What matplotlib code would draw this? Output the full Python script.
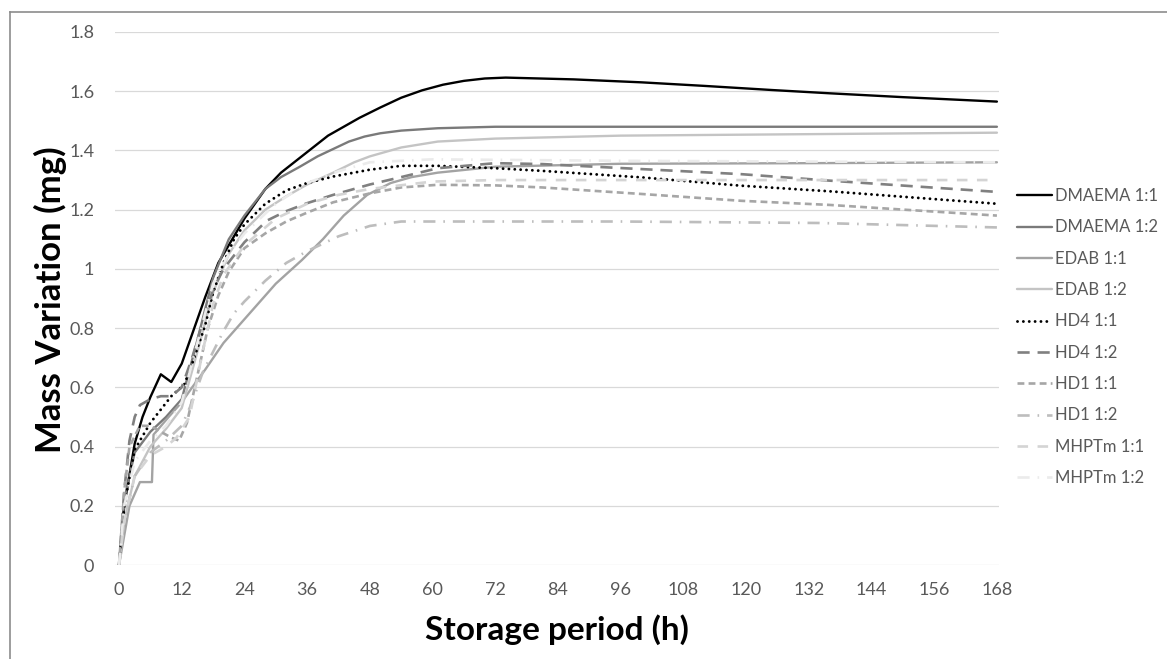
import matplotlib
matplotlib.use("Agg")
import matplotlib.pyplot as plt
from matplotlib.lines import Line2D

plt.rcParams['font.family'] = ['Lato', 'DejaVu Sans']

# ---- data: mass variation (mg) vs storage time (h) ----
dmaema_11_h = [0, 1, 3, 4.5, 6, 8, 10, 12, 14, 16.5, 19, 22, 24, 28, 31, 34.6, 40, 46, 50, 54, 58, 62, 66, 70, 74, 87, 100, 112, 125, 136, 150, 168]
dmaema_11_mg = [0, 0.2, 0.41, 0.5, 0.567, 0.644, 0.618, 0.68, 0.78, 0.905, 1.02, 1.11, 1.17, 1.27, 1.325, 1.375, 1.45, 1.51, 1.545, 1.578, 1.603, 1.622, 1.635, 1.643, 1.646, 1.64, 1.63, 1.618, 1.604, 1.593, 1.58, 1.565]

dmaema_12_h = [0, 1, 3, 6, 9, 12, 15, 18, 21, 24, 28, 31, 34.6, 38, 41, 44, 47, 50, 54, 61, 72, 96, 132, 168]
dmaema_12_mg = [0, 0.22, 0.38, 0.45, 0.5, 0.56, 0.76, 0.97, 1.1, 1.18, 1.27, 1.31, 1.345, 1.38, 1.405, 1.43, 1.447, 1.458, 1.467, 1.475, 1.48, 1.48, 1.48, 1.48]

edab_11_h = [0, 2, 4, 6.3, 6.6, 9.5, 12, 14, 16.5, 20, 24, 30, 35, 39, 43, 47.5, 52, 56, 61, 72, 96, 132, 168]
edab_11_mg = [0, 0.2, 0.28, 0.28, 0.44, 0.5, 0.55, 0.6, 0.66, 0.75, 0.83, 0.95, 1.03, 1.1, 1.18, 1.25, 1.29, 1.31, 1.325, 1.345, 1.355, 1.357, 1.36]

edab_12_h = [0, 1, 3, 6, 9, 12, 15, 18, 21, 24, 28, 32, 36, 41, 45, 48, 54, 61, 72, 96, 132, 168]
edab_12_mg = [0, 0.15, 0.3, 0.4, 0.46, 0.53, 0.72, 0.92, 1.05, 1.13, 1.2, 1.245, 1.285, 1.325, 1.36, 1.38, 1.41, 1.43, 1.44, 1.45, 1.455, 1.46]

hd4_11_h = [0, 1, 3, 6, 10, 12.5, 14, 16.5, 18, 20, 22, 24, 28, 32, 36, 41, 48, 54, 61, 72, 81, 100, 119, 136, 168]
hd4_11_mg = [0, 0.2, 0.39, 0.48, 0.57, 0.61, 0.68, 0.81, 0.92, 1.02, 1.1, 1.15, 1.22, 1.265, 1.29, 1.312, 1.335, 1.348, 1.348, 1.34, 1.331, 1.309, 1.281, 1.262, 1.22]

hd4_12_h = [0, 1, 2, 3, 4, 6, 8, 10, 12, 14, 16, 18, 20, 24, 28.3, 32, 36, 41, 48, 54, 61, 72, 81, 100, 119, 136, 168]
hd4_12_mg = [0, 0.25, 0.42, 0.5, 0.54, 0.56, 0.57, 0.57, 0.6, 0.7, 0.82, 0.93, 1.0, 1.09, 1.163, 1.195, 1.222, 1.25, 1.285, 1.31, 1.34, 1.357, 1.354, 1.337, 1.32, 1.298, 1.26]

hd1_11_h = [0, 1, 2, 4, 6, 8, 10, 11.5, 13, 15, 17, 19, 21, 24, 28, 32, 36, 41, 48, 54, 61, 72, 81, 100, 119, 136, 168]
hd1_11_mg = [0, 0.25, 0.4, 0.47, 0.47, 0.45, 0.43, 0.42, 0.48, 0.64, 0.8, 0.91, 0.99, 1.07, 1.12, 1.16, 1.19, 1.225, 1.255, 1.275, 1.284, 1.282, 1.275, 1.253, 1.23, 1.216, 1.18]

hd1_12_h = [0, 1, 3, 6, 9, 12, 14, 16, 18, 20, 22, 24, 28, 32, 36, 42, 48, 54, 60, 96, 134, 168]
hd1_12_mg = [0, 0.15, 0.3, 0.38, 0.42, 0.47, 0.55, 0.65, 0.72, 0.79, 0.85, 0.89, 0.96, 1.02, 1.06, 1.11, 1.145, 1.16, 1.16, 1.16, 1.155, 1.14]

mhptm_11_h = [0, 1, 3, 6, 9, 11, 13.5, 16, 18, 20, 24, 30, 36, 42, 48, 60, 72, 168]
mhptm_11_mg = [0, 0.15, 0.3, 0.37, 0.4, 0.43, 0.5, 0.72, 0.88, 0.98, 1.08, 1.17, 1.22, 1.25, 1.27, 1.295, 1.3, 1.3]

mhptm_12_h = [0, 1, 3, 6, 9, 12, 15, 18, 21, 24, 30, 36, 42, 48, 60, 96, 168]
mhptm_12_mg = [0, 0.2, 0.35, 0.42, 0.47, 0.55, 0.75, 0.95, 1.05, 1.12, 1.22, 1.29, 1.33, 1.36, 1.37, 1.365, 1.36]

series_labels = ["DMAEMA 1:1", "DMAEMA 1:2", "EDAB 1:1", "EDAB 1:2", "HD4 1:1",
                 "HD4 1:2", "HD1 1:1", "HD1 1:2", "MHPTm 1:1", "MHPTm 1:2"]
x_ticks = list(range(0, 169, 12))
y_ticks = [0, 0.2, 0.4, 0.6, 0.8, 1.0, 1.2, 1.4, 1.6, 1.8]
y_tick_labels = ["0", "0.2", "0.4", "0.6", "0.8", "1", "1.2", "1.4", "1.6", "1.8"]

series = [
    (dmaema_11_h, dmaema_11_mg),
    (dmaema_12_h, dmaema_12_mg),
    (edab_11_h, edab_11_mg),
    (edab_12_h, edab_12_mg),
    (hd4_11_h, hd4_11_mg),
    (hd4_12_h, hd4_12_mg),
    (hd1_11_h, hd1_11_mg),
    (hd1_12_h, hd1_12_mg),
    (mhptm_11_h, mhptm_11_mg),
    (mhptm_12_h, mhptm_12_mg),
]

# line styles: colour, width (pt), dash pattern (None = solid)
styles = [
    dict(color="#000000", lw=1.7, dashes=None),
    dict(color="#7a7a7a", lw=1.7, dashes=None),
    dict(color="#a3a3a3", lw=1.7, dashes=None),
    dict(color="#c4c4c4", lw=1.7, dashes=None),
    dict(color="#000000", lw=2.1, dashes=(0.01, 2.0)),
    dict(color="#808080", lw=1.9, dashes=(4.6, 3.0)),
    dict(color="#a6a6a6", lw=1.9, dashes=(2.6, 1.6)),
    dict(color="#bdbdbd", lw=1.9, dashes=(4.6, 3.0, 0.6, 3.0)),
    dict(color="#d4d4d4", lw=1.9, dashes=(4.0, 3.6)),
    dict(color="#ebebeb", lw=1.9, dashes=(4.6, 3.0, 0.6, 3.0)),
]

W, H = 1167, 659
fig = plt.figure(figsize=(W / 100, H / 100), dpi=100)
ax = fig.add_axes([115 / W, 1 - 565 / H, (999 - 115) / W, (565 - 32) / H])

handles = []
for (hx, vy), lab, st in zip(series, series_labels, styles):
    kw = dict(color=st["color"], lw=st["lw"], label=lab, solid_capstyle="round",
              solid_joinstyle="round")
    if st["dashes"] is not None:
        kw["dashes"] = st["dashes"]
        kw["dash_capstyle"] = "round" if st["dashes"][0] < 0.1 else "butt"
    line, = ax.plot(hx, vy, **kw)
    handles.append(line)

ax.set_xlim(-0.77, 168.4)
ax.set_ylim(0, 1.8)
ax.set_xticks(x_ticks)
ax.set_yticks(y_ticks)
ax.set_yticklabels(y_tick_labels)
ax.yaxis.grid(True, color="#d9d9d9", lw=0.9)
ax.set_axisbelow(True)
for s in ax.spines.values():
    s.set_visible(False)
ax.tick_params(axis="both", length=0, labelsize=13, labelcolor="#595959")
ax.tick_params(axis="y", pad=15)
ax.tick_params(axis="x", pad=12)

ax.set_xlabel("Storage period (h)", fontsize=24, fontweight="bold", labelpad=12)
ax.set_ylabel("Mass Variation (mg)", fontsize=25, fontweight="bold")
ax.yaxis.set_label_coords(-48 / (999 - 115), 0.497)

leg = fig.legend(handles=handles, loc="center left", bbox_to_anchor=(1017 / W, 1 - 337 / H),
                 frameon=False, fontsize=12, labelcolor="#595959", handlelength=2.1,
                 handletextpad=0.2, labelspacing=0.92, borderpad=0, borderaxespad=0)

# outer frame lines (top and left)
fig.add_artist(Line2D([10 / W, 10 / W], [0, 1 - 12 / H], transform=fig.transFigure,
                      color="#8c8c8c", lw=1.2))
fig.add_artist(Line2D([10 / W, 1], [1 - 12 / H, 1 - 12 / H], transform=fig.transFigure,
                      color="#8c8c8c", lw=1.2))

fig.savefig("out.png", dpi=100, facecolor="white")
